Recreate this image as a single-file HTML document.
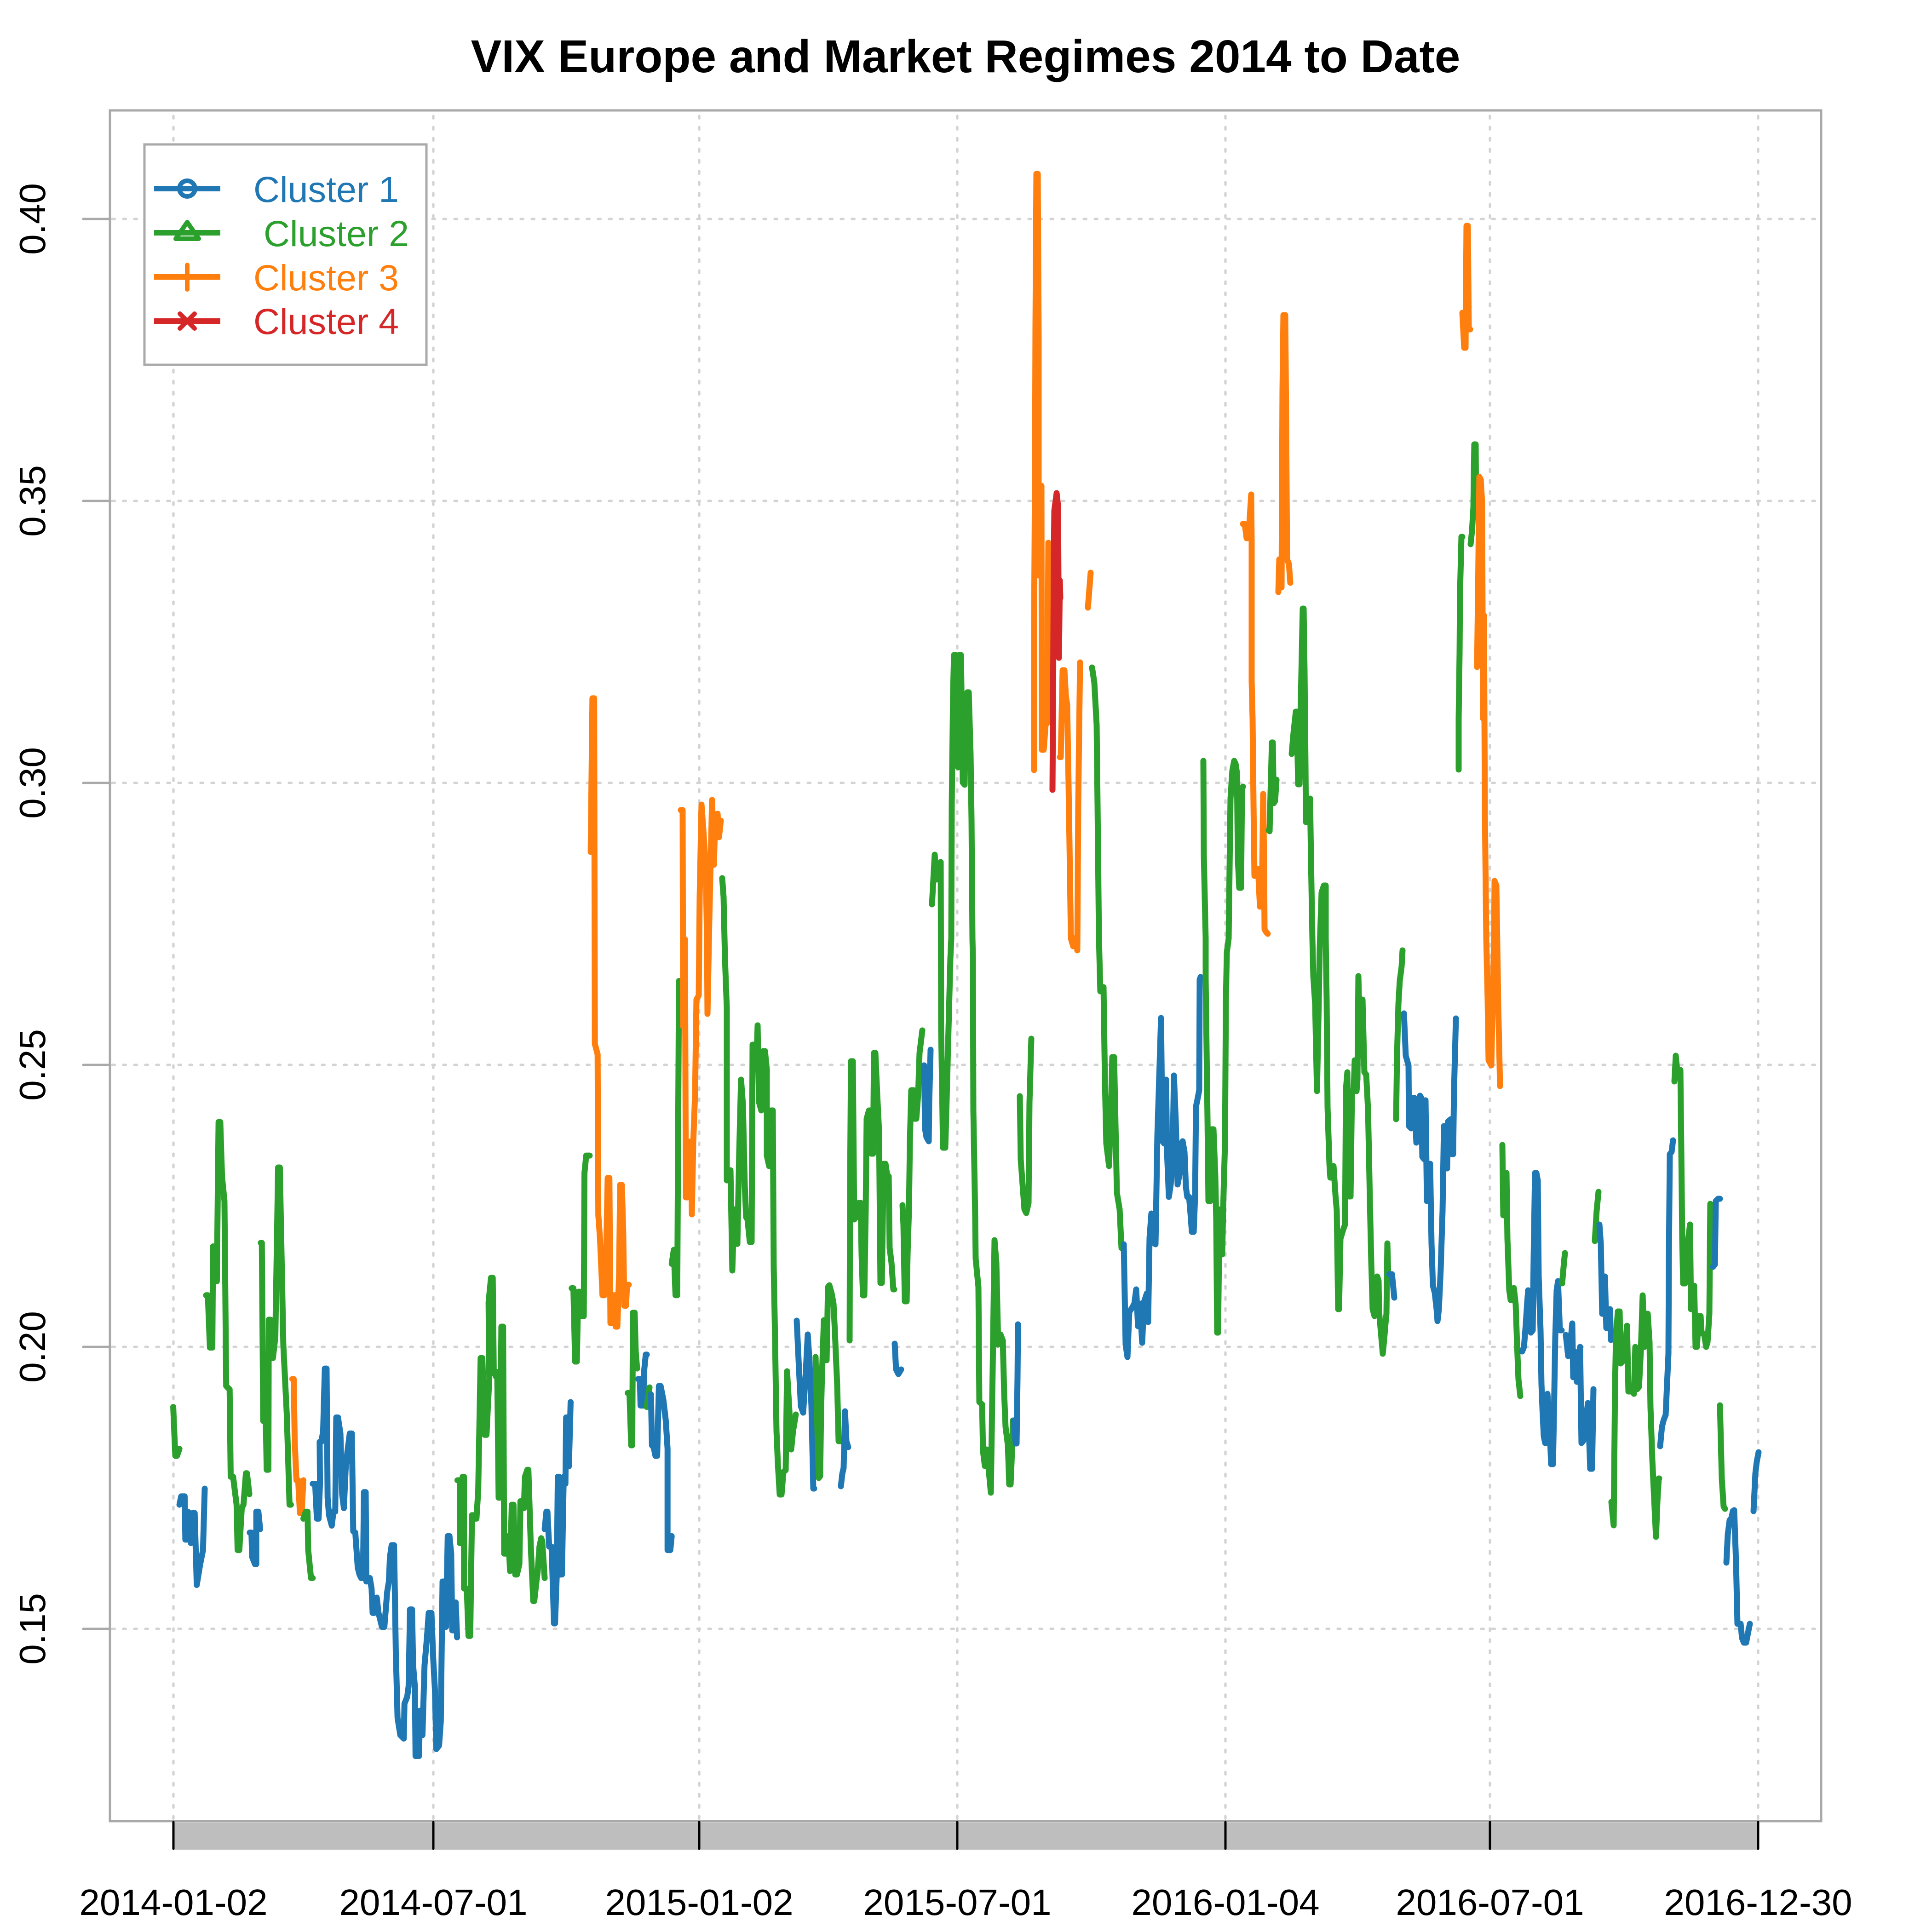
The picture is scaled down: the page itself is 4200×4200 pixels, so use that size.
<!DOCTYPE html>
<html><head><meta charset="utf-8"><style>
html,body{margin:0;padding:0;background:#fff}
svg{display:block}
.d path{fill:none;stroke-width:13;stroke-linejoin:round;stroke-linecap:round;vector-effect:non-scaling-stroke}
.b{stroke:#1f77b4}.g{stroke:#2ca02c}.o{stroke:#ff7f0e}.r{stroke:#d62728}
.grid line{stroke:#d3d3d3;stroke-width:5.3;stroke-linecap:round;stroke-dasharray:5.4 18.6}
text{font-family:"Liberation Sans",Arial,sans-serif}
</style></head><body>
<svg width="4200" height="4200" viewBox="0 0 4200 4200" xmlns="http://www.w3.org/2000/svg">
<rect x="0" y="0" width="4200" height="4200" fill="#fff"/>
<text x="2099" y="157" font-size="100" font-weight="bold" text-anchor="middle" fill="#000">VIX Europe and Market Regimes 2014 to Date</text>

<g class="grid">
<line x1="244" y1="476" x2="3956" y2="476"/>
<line x1="244" y1="1089" x2="3956" y2="1089"/>
<line x1="244" y1="1702" x2="3956" y2="1702"/>
<line x1="244" y1="2315" x2="3956" y2="2315"/>
<line x1="244" y1="2928" x2="3956" y2="2928"/>
<line x1="244" y1="3541" x2="3956" y2="3541"/>
<line x1="377" y1="252" x2="377" y2="3956"/>
<line x1="942" y1="252" x2="942" y2="3956"/>
<line x1="1520" y1="252" x2="1520" y2="3956"/>
<line x1="2081" y1="252" x2="2081" y2="3956"/>
<line x1="2664" y1="252" x2="2664" y2="3956"/>
<line x1="3239" y1="252" x2="3239" y2="3956"/>
<line x1="3822" y1="252" x2="3822" y2="3956"/>
</g>

<g class="d" transform="translate(360,1480) scale(0.75255,1.51786)">
<path class="g" d="M22,1040 L28,1110 L33,1110 L40,1100"/>
<path class="b" d="M40,1180 L45,1168 L55,1168 L57,1230 L62,1230 L64,1190 L70,1192 L73,1235 L78,1192 L84,1192 L90,1295 L95,1280 L100,1265 L108,1245 L113,1157"/>
<path class="g" d="M117,880 L122,880 L128,955 L135,955 L137,810 L142,860 L148,860 L153,632 L158,632 L163,710 L170,745 L175,1010 L185,1015 L188,1140 L195,1140 L205,1180 L208,1245 L213,1245 L220,1185 L225,1180 L232,1135 L235,1135 L242,1165"/>
<path class="b" d="M243,1220 L248,1220 L250,1255 L258,1265 L262,1265 L262,1190 L268,1190 L273,1215"/>
<path class="g" d="M275,805 L278,805 L282,1060 L288,1020 L292,1130 L297,1130 L298,915 L303,915 L310,970 L317,940 L325,697 L330,697 L340,950 L350,1050 L358,1180 L362,1180"/>
<path class="o" d="M366,1000 L370,1000 L373,1090 L378,1145 L383,1145 L388,1192 L393,1192 L398,1145"/>
<path class="g" d="M398,1200 L405,1190 L410,1190 L412,1245 L420,1285 L425,1285"/>
<path class="b" d="M425,1150 L432,1150 L437,1200 L442,1200 L446,1150 L445,1090 L450,1090 L455,1075 L460,985 L465,985 L468,1170 L472,1195 L480,1210 L485,1190 L490,1190 L493,1055 L498,1055 L505,1078 L510,1165 L515,1185 L520,1130 L525,1105 L532,1078 L538,1078 L542,1218 L548,1220 L555,1270 L560,1280 L565,1285 L570,1285 L573,1162 L578,1162 L580,1290 L590,1285 L595,1300 L598,1335 L603,1335 L610,1313 L615,1335 L625,1355 L632,1355 L640,1305 L645,1290 L648,1255 L653,1238 L660,1238 L665,1390 L670,1485 L678,1510 L688,1515 L690,1465 L698,1455 L702,1440 L706,1330 L712,1330 L715,1410 L720,1440 L722,1540 L732,1540 L735,1475 L740,1475 L742,1510 L748,1410 L755,1370 L760,1335 L768,1335 L773,1400 L778,1445 L782,1530 L790,1525 L795,1490 L800,1290 L805,1290 L810,1355 L815,1225 L820,1225 L825,1250 L828,1360 L835,1360 L838,1320 L842,1370"/>
<path class="g" d="M843,1145 L850,1145 L850,1235 L855,1235 L858,1140 L862,1140 L862,1300 L870,1300 L875,1368 L880,1368 L885,1195 L888,1195 L893,1200 L898,1200 L903,1160 L910,970 L915,970 L922,1080 L927,1080 L935,1000 L933,890 L940,855 L945,855 L948,990 L955,997 L958,990 L962,1170 L965,1170 L970,925 L975,925 L978,1250 L985,1250 L990,1225 L995,1275 L1000,1180 L1005,1180 L1010,1280 L1015,1280 L1022,1265 L1025,1175 L1030,1175 L1035,1185 L1038,1140 L1045,1130 L1048,1130 L1055,1240 L1062,1318 L1065,1318 L1070,1295 L1075,1275 L1080,1240 L1085,1228 L1088,1232 L1095,1285"/>
<path class="b" d="M1095,1215 L1100,1190 L1103,1190 L1108,1240 L1115,1240 L1122,1350 L1125,1350 L1130,1280 L1133,1140 L1137,1140 L1140,1280 L1145,1280 L1150,1140 L1155,1150 L1157,1055 L1162,1055 L1165,1125 L1170,1033"/>
<path class="g" d="M1173,870 L1178,870 L1183,975 L1188,975 L1192,875 L1197,875 L1200,910 L1208,910 L1210,705 L1215,680 L1225,680"/>
<path class="o" d="M1228,245 L1233,25 L1238,25 L1240,520 L1248,535 L1250,765 L1255,800 L1262,880 L1268,880 L1273,815 L1277,712 L1282,712 L1285,920 L1290,920 L1295,880 L1298,880 L1300,925 L1305,925 L1310,850 L1313,722 L1318,722 L1322,790 L1325,895 L1330,895 L1333,865 L1338,865"/>
<path class="g" d="M1335,1020 L1340,1020 L1345,1095 L1348,1095 L1350,905 L1355,905 L1358,960 L1362,985"/>
<path class="b" d="M1365,1000 L1370,1000 L1372,1038 L1380,1038 L1382,990 L1387,965 L1390,965"/>
<path class="g" d="M1390,1040 L1398,1012"/>
<path class="b" d="M1402,1022 L1405,1095 L1410,1098 L1415,1110 L1420,1110 L1425,1010 L1430,1010 L1438,1030 L1445,1060 L1450,1100 L1450,1245 L1458,1245 L1462,1225"/>
<path class="g" d="M1462,835 L1468,815 L1473,880 L1478,880 L1483,430"/>
</g>

<g class="d">
<path class="o" d="M1480,1761 L1484,1761 L1485,2231 L1489,2042 L1491,2603 L1495,2603 L1498,2482 L1502,2482 L1504,2640 L1507,2486 L1511,2379 L1514,2173 L1519,2164 L1521,1950 L1525,1749 L1529,1804 L1534,1880 L1537,2040 L1538,2204 L1542,2000 L1548,1739 L1552,1880 L1555,1771 L1560,1769 L1563,1820 L1567,1784"/>
<path class="g" d="M1570,1909 L1573,1950 L1576,2084 L1580,2191 L1580,2566 L1584,2566 L1588,2544 L1592,2762 L1596,2629 L1600,2704 L1603,2704 L1607,2504 L1611,2347 L1615,2401 L1619,2575 L1622,2646 L1625,2651 L1630,2700 L1634,2700 L1636,2271 L1640,2271 L1644,2325 L1647,2229 L1650,2396 L1655,2414 L1659,2285 L1663,2285 L1667,2325 L1667,2512 L1672,2535 L1676,2414 L1680,2414 L1682,2754 L1685,2914 L1688,3111 L1691,3182 L1695,3249 L1699,3249 L1703,3200 L1708,3196 L1711,2981 L1716,3066 L1720,3151 L1724,3111 L1730,3075"/>
<path class="b" d="M1732,2871 L1737,2977 L1741,3057 L1746,3071 L1751,2995 L1756,2901 L1760,2963 L1764,3057 L1768,3236 L1770,3236"/>
<path class="g" d="M1773,2950 L1777,3111 L1780,3213 L1783,3209 L1785,3066 L1787,2986 L1791,2870 L1795,2870 L1797,2957 L1800,2798 L1803,2794 L1808,2812 L1812,2834 L1815,2896 L1820,3012 L1823,3133 L1828,3133"/>
<path class="b" d="M1828,3231 L1831,3204 L1834,3191 L1837,3068 L1840,3133 L1844,3146"/>
<path class="g" d="M1847,2914 L1848,2575 L1850,2307 L1854,2307 L1857,2651 L1860,2646 L1863,2646 L1867,2615 L1871,2615 L1873,2727 L1876,2816 L1879,2816 L1882,2629 L1884,2432 L1889,2414 L1892,2414 L1894,2508 L1898,2508 L1900,2289 L1903,2289 L1907,2379 L1911,2459 L1914,2789 L1917,2789 L1921,2530 L1925,2530 L1929,2557 L1932,2557 L1934,2713 L1938,2745 L1942,2803 L1944,2803"/>
<path class="b" d="M1945,2921 L1948,2977 L1953,2987 L1959,2977"/>
<path class="g" d="M1962,2620 L1964,2664 L1967,2829 L1971,2829 L1973,2727 L1976,2629 L1978,2481 L1981,2370 L1986,2370 L1988,2432 L1992,2432 L1996,2379 L1999,2289 L2005,2240"/>
<path class="b" d="M2009,2316 L2011,2454 L2014,2472 L2019,2481 L2020,2401 L2023,2282"/>
<path class="g" d="M2026,1966 L2032,1858 L2036,1912 L2040,1880 L2045,1874 L2046,2236 L2050,2495 L2055,2495 L2059,2352 L2062,2236 L2066,2084 L2068,2040 L2069,1750 L2072,1500 L2074,1424 L2078,1424 L2080,1663 L2083,1668 L2085,1424 L2089,1424 L2093,1701 L2097,1706 L2098,1641 L2103,1505 L2106,1505 L2110,1641 L2112,1782 L2114,2040 L2115,2084 L2116,2414 L2120,2646 L2121,2736 L2127,2798 L2129,3048 L2135,3053 L2137,3155 L2141,3187 L2145,3151 L2149,3191 L2154,3245 L2158,2977 L2162,2696 L2166,2745 L2170,2923 L2175,2901 L2180,2914 L2183,3030 L2186,3102 L2191,3142 L2194,3227 L2197,3227 L2200,3155 L2202,3088"/>
<path class="b" d="M2204,3088 L2208,3138 L2210,3138 L2212,2995 L2213,2879"/>
<path class="g" d="M2217,2383 L2219,2521 L2223,2575 L2227,2629 L2231,2637 L2236,2615 L2238,2396 L2242,2258"/>
<path class="o" d="M2248,1674 L2248,1359 L2250,1034 L2251,709 L2253,378 L2256,378 L2258,741 L2258,1251 L2261,1056 L2264,1056 L2265,1630 L2269,1630 L2273,1576 L2277,1571 L2279,1180 L2282,1185 L2287,1245"/>
<path class="r" d="M2288,1717 L2291,1207 L2292,1110 L2297,1072 L2300,1099 L2302,1430 L2304,1262 L2305,1300"/>
<path class="o" d="M2304,1646 L2306,1646 L2310,1457 L2314,1457 L2317,1511 L2320,1533 L2323,1706 L2325,1836 L2328,2040 L2333,2057 L2338,2039 L2342,2066 L2344,1750 L2346,1587 L2348,1440"/>
<path class="o" d="M2365,1321 L2371,1245"/>
<path class="g" d="M2374,1451 L2379,1484 L2384,1576 L2386,1750 L2389,2040 L2392,2155 L2399,2146 L2402,2352 L2405,2486 L2411,2535 L2415,2414 L2418,2298 L2422,2298 L2428,2593 L2434,2629 L2438,2713 L2440,2713"/>
<path class="b" d="M2443,2705 L2447,2923 L2451,2950 L2455,2852 L2461,2843 L2466,2834 L2470,2803 L2474,2883 L2478,2834 L2483,2919 L2487,2830 L2493,2812 L2496,2874 L2499,2691 L2503,2638 L2506,2700 L2512,2705 L2516,2468 L2520,2343 L2524,2213 L2527,2481 L2531,2486 L2535,2347 L2537,2504 L2541,2602 L2545,2575 L2549,2521 L2552,2338 L2556,2437 L2560,2575 L2564,2553 L2568,2486 L2571,2481 L2575,2504 L2578,2580 L2581,2602 L2585,2602 L2588,2638 L2591,2678 L2595,2678 L2598,2602 L2600,2405 L2602,2396 L2607,2370 L2608,2129 L2610,2124"/>
<path class="g" d="M2616,1654 L2617,1858 L2621,2040 L2621,2129 L2625,2432 L2627,2611 L2631,2611 L2634,2455 L2638,2455 L2642,2557 L2644,2655 L2646,2897 L2648,2897 L2650,2727 L2652,2629 L2656,2629 L2657,2727 L2659,2629 L2663,2486 L2665,2173 L2667,2071 L2671,2040 L2675,1736 L2679,1675 L2683,1654 L2686,1660 L2689,1680 L2691,1869 L2694,1930 L2698,1930 L2700,1716 L2702,1710"/>
<path class="o" d="M2702,1139 L2706,1139 L2710,1170 L2714,1170 L2720,1075 L2721,1175 L2721,1481 L2723,1562 L2725,1746 L2727,1904 L2731,1904 L2735,1889 L2739,1971 L2743,1971 L2746,1726 L2748,1869 L2749,2020 L2753,2027 L2756,2030"/>
<path class="g" d="M2758,1805 L2760,1807 L2762,1726 L2765,1614 L2767,1614 L2769,1746 L2772,1741 L2775,1695"/>
<path class="o" d="M2779,1287 L2781,1216 L2784,1277 L2786,1277 L2788,848 L2790,685 L2794,685 L2796,909 L2798,1216 L2802,1226 L2805,1267"/>
<path class="g" d="M2808,1639 L2812,1593 L2817,1547 L2819,1547 L2822,1705 L2825,1705 L2827,1562 L2830,1420 L2832,1323 L2834,1323 L2836,1460 L2838,1665 L2839,1787 L2844,1787 L2848,1736 L2850,1869 L2853,2040 L2855,2122 L2859,2183 L2863,2372 L2867,2173 L2869,2060 L2873,1940 L2878,1925 L2882,1925 L2882,2040 L2884,2173 L2886,2407 L2890,2530 L2892,2560 L2896,2560 L2899,2535 L2903,2596 L2906,2632 L2909,2846 L2911,2846 L2914,2693 L2920,2673 L2924,2662 L2926,2367 L2929,2331 L2933,2601 L2936,2601 L2939,2377 L2943,2367 L2945,2305 L2949,2372 L2951,2346 L2953,2122 L2956,2244 L2959,2295 L2962,2173 L2966,2331 L2970,2336 L2974,2412 L2978,2611 L2981,2744 L2984,2846 L2988,2861 L2991,2856 L2994,2775 L2997,2785 L2998,2851 L3002,2897 L3006,2943 L3009,2913 L3012,2877 L3014,2856 L3016,2703 L3018,2775"/>
<path class="b" d="M3020,2770 L3026,2770 L3029,2800 L3031,2821"/>
<path class="g" d="M3035,2433 L3037,2295 L3040,2183 L3043,2132 L3047,2101 L3049,2066"/>
<path class="b" d="M3052,2203 L3056,2295 L3062,2316 L3063,2448 L3068,2453 L3072,2387 L3075,2387 L3079,2484 L3083,2448 L3087,2382 L3090,2387 L3092,2515 L3096,2520 L3099,2392 L3102,2611 L3105,2611 L3109,2530 L3112,2703 L3115,2795 L3119,2810 L3123,2846 L3125,2872 L3128,2846 L3132,2759 L3136,2632 L3139,2448 L3142,2540 L3146,2540 L3148,2438 L3154,2433 L3156,2509 L3159,2509 L3161,2367 L3165,2214"/>
<path class="g" d="M3171,1673 L3171,1562 L3173,1420 L3174,1287 L3177,1167 L3179,1167"/>
<path class="o" d="M3179,680 L3183,756 L3186,756 L3188,491 L3191,491 L3193,716 L3196,716"/>
<path class="g" d="M3197,1183 L3200,1154 L3203,1103 L3205,966 L3208,966 L3209,1113"/>
<path class="o" d="M3211,1450 L3213,1297 L3216,1037 L3219,1042 L3222,1093 L3224,1562 L3226,1338 L3228,1767 L3231,2040 L3234,2173 L3236,2305 L3242,2316 L3245,2173 L3248,2040 L3249,1915 L3253,1925 L3257,2183 L3261,2361"/>
<path class="g" d="M3266,2489 L3268,2642 L3272,2642 L3275,2550 L3277,2693 L3281,2805 L3284,2826 L3288,2826 L3291,2800 L3295,2836 L3298,2923 L3301,2999 L3305,3035"/>
<path class="b" d="M3309,2938 L3313,2928 L3317,2877 L3320,2831 L3322,2805 L3326,2816 L3328,2897 L3332,2892 L3334,2734 L3337,2550 L3340,2550 L3343,2566 L3345,2775 L3349,2892 L3351,3009 L3353,3060 L3356,3122 L3359,3137 L3362,3137 L3364,3030 L3368,3081 L3372,3183 L3376,3183 L3378,3081 L3381,2907 L3384,2805 L3387,2785 L3391,2892 L3395,2892"/>
<path class="g" d="M3396,2790 L3400,2744 L3402,2724"/>
<path class="b" d="M3404,2902 L3409,2948 L3414,2918 L3418,2877 L3420,2994 L3423,2938 L3428,3004 L3431,2969 L3435,2928 L3438,3137 L3442,3132 L3447,3091 L3452,3050 L3457,3193 L3461,3193 L3464,3020"/>
<path class="g" d="M3467,2698 L3471,2632 L3475,2591"/>
<path class="b" d="M3477,2662 L3480,2703 L3483,2856 L3487,2856 L3489,2775 L3492,2887 L3496,2887 L3500,2846 L3502,2913"/>
<path class="g" d="M3503,3265 L3508,3316 L3511,3009 L3513,2907 L3517,2851 L3521,2851 L3523,2964 L3529,2958 L3533,2928 L3537,2882 L3540,3025 L3546,3025 L3549,3025 L3552,3030 L3555,2928 L3559,3020 L3563,3015 L3567,2938 L3571,2816 L3575,2928 L3578,2856 L3582,2856 L3586,2918 L3588,3060 L3592,3173 L3596,3259 L3600,3341 L3603,3265 L3606,3214 L3607,3214"/>
<path class="b" d="M3609,3144 L3613,3101 L3617,3086 L3621,3076 L3624,3009 L3627,2943 L3628,2734 L3630,2509 L3634,2504 L3637,2479"/>
<path class="g" d="M3640,2351 L3643,2295 L3647,2336 L3653,2326 L3655,2499 L3657,2693 L3659,2790 L3663,2790 L3666,2785 L3670,2693 L3674,2662 L3676,2846 L3679,2795 L3683,2795 L3686,2928 L3689,2928 L3693,2861 L3697,2861 L3699,2897 L3705,2902 L3709,2928 L3712,2918 L3716,2856 L3718,2617 L3721,2719"/>
<path class="b" d="M3724,2754 L3728,2749 L3730,2611 L3735,2606 L3739,2606"/>
<path class="g" d="M3739,3055 L3743,3214 L3747,3275 L3750,3280"/>
<path class="b" d="M3753,3397 L3756,3336 L3760,3305 L3764,3300 L3767,3285 L3770,3283 L3774,3397 L3777,3530 L3784,3530 L3787,3561 L3791,3571 L3796,3571 L3800,3550 L3804,3530"/>
<path class="b" d="M3812,3285 L3816,3203 L3819,3178 L3823,3157"/>
</g>

<!-- plot box -->
<rect x="239" y="240" width="3720" height="3719" fill="none" stroke="#a9a9a9" stroke-width="5"/>

<!-- y ticks and labels -->
<g stroke="#a9a9a9" stroke-width="5" stroke-linecap="round">
<line x1="181" y1="476" x2="239" y2="476"/>
<line x1="181" y1="1089" x2="239" y2="1089"/>
<line x1="181" y1="1702" x2="239" y2="1702"/>
<line x1="181" y1="2315" x2="239" y2="2315"/>
<line x1="181" y1="2928" x2="239" y2="2928"/>
<line x1="181" y1="3541" x2="239" y2="3541"/>
</g>
<g font-size="80" fill="#000" text-anchor="middle">
<text transform="translate(98,476) rotate(-90)">0.40</text>
<text transform="translate(98,1089) rotate(-90)">0.35</text>
<text transform="translate(98,1702) rotate(-90)">0.30</text>
<text transform="translate(98,2315) rotate(-90)">0.25</text>
<text transform="translate(98,2928) rotate(-90)">0.20</text>
<text transform="translate(98,3541) rotate(-90)">0.15</text>
</g>

<!-- x axis bar and ticks -->
<rect x="377" y="3962" width="3445" height="59" fill="#bebebe"/>
<g stroke="#000" stroke-width="5" stroke-linecap="round">
<line x1="377" y1="3961" x2="377" y2="4019"/>
<line x1="942" y1="3961" x2="942" y2="4019"/>
<line x1="1520" y1="3961" x2="1520" y2="4019"/>
<line x1="2081" y1="3961" x2="2081" y2="4019"/>
<line x1="2664" y1="3961" x2="2664" y2="4019"/>
<line x1="3239" y1="3961" x2="3239" y2="4019"/>
<line x1="3822" y1="3961" x2="3822" y2="4019"/>
</g>
<g font-size="80" fill="#000" text-anchor="middle">
<text x="377" y="4163">2014-01-02</text>
<text x="942" y="4163">2014-07-01</text>
<text x="1520" y="4163">2015-01-02</text>
<text x="2081" y="4163">2015-07-01</text>
<text x="2664" y="4163">2016-01-04</text>
<text x="3239" y="4163">2016-07-01</text>
<text x="3822" y="4163">2016-12-30</text>
</g>

<!-- legend -->
<rect x="314" y="314" width="613" height="479" fill="#fff" stroke="#a9a9a9" stroke-width="5"/>
<g stroke-width="12" stroke-linecap="butt" fill="none">
<line x1="335" y1="410" x2="479" y2="410" stroke="#1f77b4"/>
<line x1="335" y1="506" x2="479" y2="506" stroke="#2ca02c"/>
<line x1="335" y1="602" x2="479" y2="602" stroke="#ff7f0e"/>
<line x1="335" y1="698" x2="479" y2="698" stroke="#d62728"/>
</g>
<g stroke-width="10" stroke-linecap="round" stroke-linejoin="round" fill="none">
<circle cx="407" cy="410" r="17" stroke="#1f77b4"/>
<path d="M407,483 L382,519 L432,519 Z" stroke="#2ca02c"/>
<line x1="407" y1="576" x2="407" y2="629" stroke="#ff7f0e"/>
<line x1="391" y1="682" x2="423" y2="714" stroke="#d62728"/>
<line x1="423" y1="682" x2="391" y2="714" stroke="#d62728"/>
</g>
<g font-size="79">
<text x="551" y="439" fill="#1f77b4">Cluster 1</text>
<text x="573" y="535" fill="#2ca02c">Cluster 2</text>
<text x="551" y="631" fill="#ff7f0e">Cluster 3</text>
<text x="551" y="726" fill="#d62728">Cluster 4</text>
</g>
</svg>
</body></html>
